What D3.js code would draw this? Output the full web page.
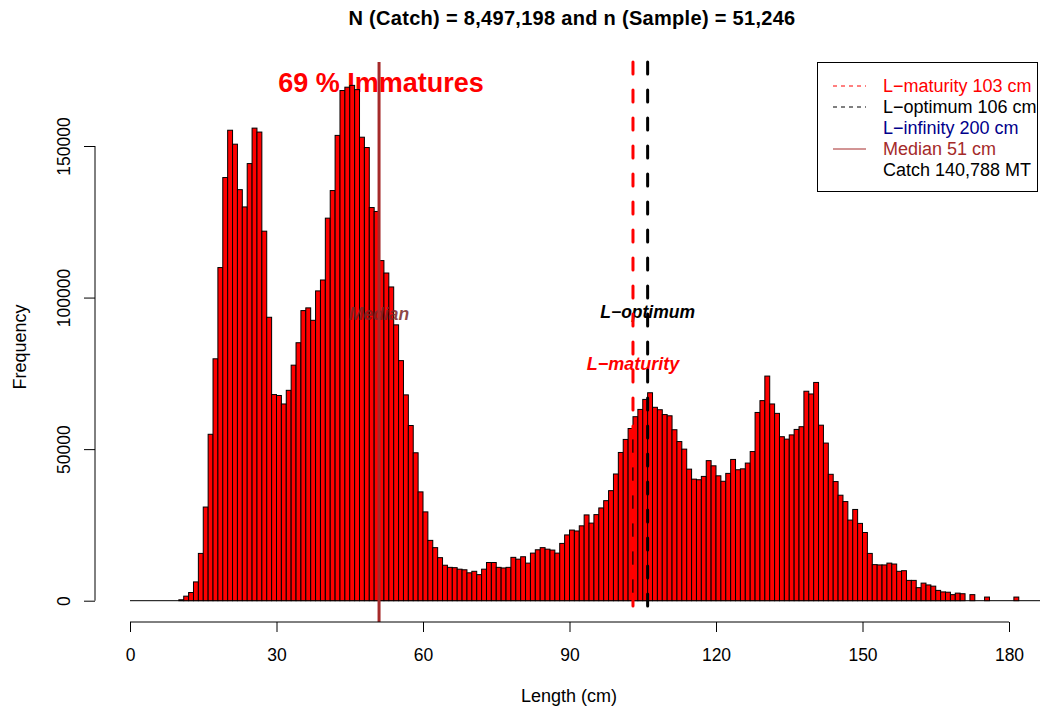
<!DOCTYPE html>
<html>
<head>
<meta charset="utf-8">
<script src="https://cdn.jsdelivr.net/npm/d3@7"></script>
<style>
  body { margin: 0; background: #fff; }
  svg { display: block; font-family: "Liberation Sans", Arial, Helvetica, sans-serif; }
</style>
</head>
<body>
<svg id="chart" width="1040" height="711"></svg>
<script>
// ---- data (1-cm length bins starting at 0 cm) ----
const binWidth = 1;
const frequency = [
  0,0,0,0,0,0,0,0,0,0,                                  // 0-9
  300,1500,2700,6200,15600,30900,54900,79800,109900,139600, // 10-19
  155200,150600,135600,129900,144200,155900,154600,121900,93500,68000, // 20-29
  67700,64900,69400,77700,85100,95700,96600,92500,102200,105800, // 30-39
  126200,135300,153500,168300,169400,170000,168600,152900,149500,129700, // 40-49
  128400,112200,108100,103500,91000,79200,67900,57800,48800,35900, // 50-59
  29300,19900,17500,14200,11700,11000,10900,10400,10200,9200, // 60-69
  9700,8600,10400,12600,12600,11000,10800,11000,14300,13700, // 70-79
  14500,12400,15700,16800,17500,17000,16700,15700,18900,21700, // 80-89
  23300,23000,24700,28300,25600,28400,30600,33000,36300,41800, // 90-99
  48900,53200,56800,60700,63100,66400,68600,63800,63000,61400, // 100-109
  61000,56400,52500,50000,43400,40100,39900,41000,46200,44500, // 110-119
  41200,39400,42000,46600,43200,43500,45400,49200,62100,66000, // 120-129
  74100,64900,61800,54100,53300,54700,56500,57400,69100,68200, // 130-139
  72000,57900,52000,41700,39300,34800,32700,26600,30100,25500, // 140-149
  22500,15600,11900,11800,11800,12400,12100,9700,9900,6700,   // 150-159
  6700,4300,5800,5200,4800,3400,2900,2800,2000,2500,          // 160-169
  2300,0,2000,0,0,1200,0,0,0,0,                             // 170-179
  0,1200,0,0,0,0,0                                          // 180-186
];
const xTicks = [0, 30, 60, 90, 120, 150, 180];
const yTicks = [0, 50000, 100000, 150000];
const refLines = [
  { name: "L\u2212maturity", value: 103, color: "red",   dash: true },
  { name: "L\u2212optimum",  value: 106, color: "black", dash: true },
  { name: "Median",          value: 51,  color: "#A52A2A", dash: false }
];
const legendItems = [
  { label: "L\u2212maturity 103 cm", color: "red",      line: "dash" },
  { label: "L\u2212optimum 106 cm",  color: "black",    line: "dash" },
  { label: "L\u2212infinity 200 cm", color: "#00008B",  line: "none" },
  { label: "Median 51 cm",           color: "#A52A2A",  line: "solid" },
  { label: "Catch 140,788 MT",       color: "black",    line: "none" }
];
const titleText = "N (Catch) = 8,497,198 and n (Sample) = 51,246";
const immatureText = "69 % Immatures";

// ---- layout ----
const svg = d3.select("#chart");
const x = d3.scaleLinear().domain([0, 180]).range([130, 1009]);
const y = d3.scaleLinear().domain([0, 150000]).range([600.7, 146]);
const plotTop = 62, plotBottom = 622, axisLeft = 95;

// title
svg.append("text").attr("x", 572).attr("y", 25).attr("text-anchor", "middle")
  .attr("font-weight", "bold").attr("font-size", 20).attr("letter-spacing", 0.3).text(titleText);

// immatures label (behind bars)
svg.append("text").attr("x", 381).attr("y", 92).attr("text-anchor", "middle")
  .attr("font-weight", "bold").attr("font-size", 27).attr("fill", "red").text(immatureText);

// baseline for empty bins
svg.append("line").attr("x1", x(0)).attr("x2", x(frequency.length))
  .attr("y1", y(0)).attr("y2", y(0)).attr("stroke", "black").attr("stroke-width", 1);

// bars
svg.append("g").selectAll("rect")
  .data(frequency.map((v, i) => ({ start: i * binWidth, v })).filter(d => d.v > 0))
  .join("rect")
  .attr("x", d => x(d.start))
  .attr("width", d => x(d.start + binWidth) - x(d.start))
  .attr("y", d => y(d.v))
  .attr("height", d => y(0) - y(d.v))
  .attr("fill", "red").attr("stroke", "black").attr("stroke-width", 1);

// text annotations
svg.append("text").attr("x", x(51)).attr("y", 320).attr("text-anchor", "middle")
  .attr("font-weight", "bold").attr("font-style", "italic").attr("font-size", 17.5)
  .attr("fill", "#7a2626").attr("fill-opacity", 0.85).text("Median");
svg.append("text").attr("x", x(106)).attr("y", 318).attr("text-anchor", "middle")
  .attr("font-weight", "bold").attr("font-style", "italic").attr("font-size", 17.5)
  .attr("fill", "black").text("L\u2212optimum");
svg.append("text").attr("x", x(103)).attr("y", 370).attr("text-anchor", "middle")
  .attr("font-weight", "bold").attr("font-style", "italic").attr("font-size", 18)
  .attr("fill", "red").text("L\u2212maturity");

// reference lines
svg.append("g").selectAll("line").data(refLines).join("line")
  .attr("x1", d => x(d.value)).attr("x2", d => x(d.value))
  .attr("y1", plotTop).attr("y2", plotBottom)
  .attr("stroke", d => d.color).attr("stroke-width", 3)
  .attr("stroke-linecap", d => d.dash ? "round" : "butt")
  .attr("stroke-dasharray", d => d.dash ? "12,16" : null);

// x axis
const gx = svg.append("g").attr("transform", `translate(0,${plotBottom})`);
gx.call(d3.axisBottom(x).tickValues(xTicks).tickSize(10).tickPadding(15).tickFormat(d3.format("d")));
gx.select(".domain").attr("stroke", "black").attr("d", `M${x(0)},0H${x(180)}`);
gx.selectAll(".tick line").attr("stroke", "black");
gx.selectAll(".tick text").attr("font-size", 17.5).attr("font-family", "Liberation Sans, Arial, sans-serif")
  .attr("dy", null).attr("y", 39);

svg.append("text").attr("x", 569).attr("y", 702).attr("text-anchor", "middle")
  .attr("font-size", 18).text("Length (cm)");

// y axis
const gy = svg.append("g").attr("transform", `translate(${axisLeft},0)`);
gy.call(d3.axisLeft(y).tickValues(yTicks).tickSize(11).tickFormat(d3.format("d")));
gy.select(".domain").attr("stroke", "black").attr("d", `M0,${y(0)}V${y(150000)}`);
gy.selectAll(".tick line").attr("stroke", "black");
gy.selectAll(".tick text").remove();
gy.selectAll(".tick").append("text")
  .attr("transform", "translate(-25,0) rotate(-90)")
  .attr("text-anchor", "middle").attr("fill", "black")
  .attr("font-size", 17.5).attr("font-family", "Liberation Sans, Arial, sans-serif")
  .text(d => d3.format("d")(d));

svg.append("text").attr("transform", "translate(26,347) rotate(-90)")
  .attr("text-anchor", "middle").attr("font-size", 18).text("Frequency");

// legend
const lg = svg.append("g");
lg.append("rect").attr("x", 817.5).attr("y", 62.5).attr("width", 220).attr("height", 129)
  .attr("fill", "white").attr("stroke", "black").attr("stroke-width", 1);
const rows = lg.selectAll("g.row").data(legendItems).join("g").attr("class", "row")
  .attr("transform", (d, i) => `translate(0,${86 + i * 21})`);
rows.filter(d => d.line !== "none").append("line")
  .attr("x1", 833).attr("x2", 866).attr("y1", 0).attr("y2", 0)
  .attr("stroke", d => d.color).attr("stroke-width", 1)
  .attr("stroke-dasharray", d => d.line === "dash" ? "4,4" : null);
rows.append("text").attr("x", 883).attr("y", 6).attr("font-size", 18)
  .attr("fill", d => d.color).text(d => d.label);
</script>
</body>
</html>
